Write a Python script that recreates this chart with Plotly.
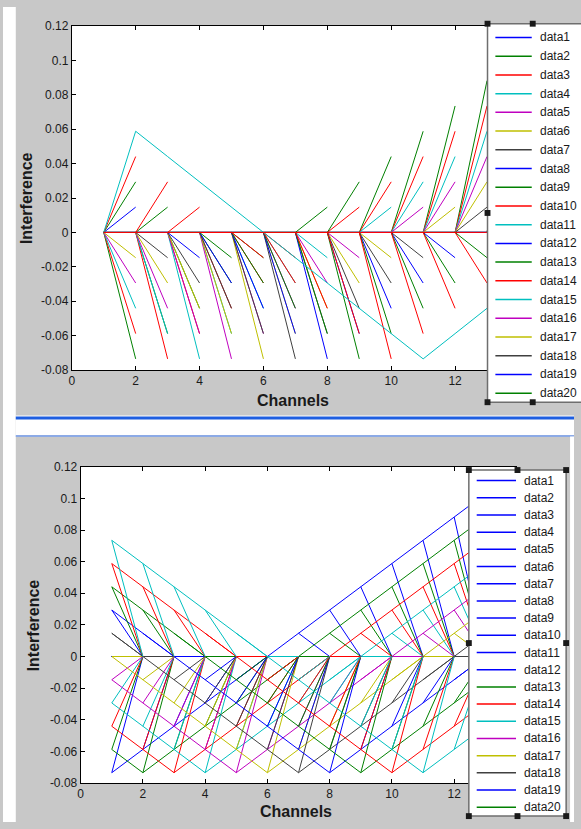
import plotly.graph_objects as go

# ---------------- data ----------------
CHANNELS = [1, 2, 3, 4, 5, 6, 7, 8, 9, 10, 11, 12, 13, 14]

# interference seen on each channel, one list per source channel
SRC1 = [-0.0735, -0.0588, -0.0441, -0.0294, -0.0147, 0, 0.0147, 0.0294, 0.0441, 0.0588, 0.0735, 0.0882, 0.1029, 0.1176]
SRC2 = [-0.0588, -0.0735, -0.0588, -0.0441, -0.0294, -0.0147, 0, 0.0147, 0.0294, 0.0441, 0.0588, 0.0735, 0.0882, 0.1029]
SRC3 = [-0.0441, -0.0588, -0.0735, -0.0588, -0.0441, -0.0294, -0.0147, 0, 0.0147, 0.0294, 0.0441, 0.0588, 0.0735, 0.0882]
SRC4 = [-0.0294, -0.0441, -0.0588, -0.0735, -0.0588, -0.0441, -0.0294, -0.0147, 0, 0.0147, 0.0294, 0.0441, 0.0588, 0.0735]
SRC5 = [-0.0147, -0.0294, -0.0441, -0.0588, -0.0735, -0.0588, -0.0441, -0.0294, -0.0147, 0, 0.0147, 0.0294, 0.0441, 0.0588]
SRC6 = [0, -0.0147, -0.0294, -0.0441, -0.0588, -0.0735, -0.0588, -0.0441, -0.0294, -0.0147, 0, 0.0147, 0.0294, 0.0441]
SRC7 = [0.0147, 0, -0.0147, -0.0294, -0.0441, -0.0588, -0.0735, -0.0588, -0.0441, -0.0294, -0.0147, 0, 0.0147, 0.0294]
SRC8 = [0.0294, 0.0147, 0, -0.0147, -0.0294, -0.0441, -0.0588, -0.0735, -0.0588, -0.0441, -0.0294, -0.0147, 0, 0.0147]
SRC9 = [0.0441, 0.0294, 0.0147, 0, -0.0147, -0.0294, -0.0441, -0.0588, -0.0735, -0.0588, -0.0441, -0.0294, -0.0147, 0]
SRC10 = [0.0588, 0.0441, 0.0294, 0.0147, 0, -0.0147, -0.0294, -0.0441, -0.0588, -0.0735, -0.0588, -0.0441, -0.0294, -0.0147]
SRC11 = [0.0735, 0.0588, 0.0441, 0.0294, 0.0147, 0, -0.0147, -0.0294, -0.0441, -0.0588, -0.0735, -0.0588, -0.0441, -0.0294]
# the long cyan line of the upper chart starts from zero on channel 1
TOP_SRC11 = [0, 0.0588, 0.0441, 0.0294, 0.0147, 0, -0.0147, -0.0294, -0.0441, -0.0588, -0.0735, -0.0588, -0.0441, -0.0294]
ZERO = [0, 0, 0, 0, 0, 0, 0, 0, 0, 0, 0, 0, 0, 0]

SERIES_NAMES = ["data1", "data2", "data3", "data4", "data5", "data6", "data7", "data8", "data9", "data10",
                "data11", "data12", "data13", "data14", "data15", "data16", "data17", "data18", "data19", "data20"]
EXTRA_NAMES = ["data21", "data22"]

X_TICKS = [0, 2, 4, 6, 8, 10, 12, 14]
X_TICK_TEXT = ["0", "2", "4", "6", "8", "10", "12", "14"]
Y_TICKS = [-0.08, -0.06, -0.04, -0.02, 0, 0.02, 0.04, 0.06, 0.08, 0.1, 0.12]
Y_TICK_TEXT = ["-0.08", "-0.06", "-0.04", "-0.02", "0", "0.02", "0.04", "0.06", "0.08", "0.1", "0.12"]
X_TITLE = "Channels"
Y_TITLE = "Interference"

SOURCES = [SRC1, SRC2, SRC3, SRC4, SRC5, SRC6, SRC7, SRC8, SRC9, SRC10, SRC11]

# ---------------- style ----------------
B, G, R, C, M, Y, K = "#0000FF", "#008000", "#FF0000", "#00BFBF", "#BF00BF", "#BFBF00", "#404040"
CYCLE = [B, G, R, C, M, Y, K]
TOP_COLORS = [B, G, R, C, M, Y, K, B, G, R, C, B, G, R, C, M, Y, K, B, G]
BOTTOM_COLORS = [B] * 12 + [G, R, C, M, Y, K, B, G]
FONT = "Liberation Sans, Arial, sans-serif"
W, H = 581, 829


def px(x):
    return x / W


def py(y):
    return 1 - y / H


def fan_up(vals):
    xs, ys = [], []
    for i in range(len(CHANNELS) - 1):
        xs += [CHANNELS[i], CHANNELS[i + 1], None]
        ys += [ZERO[i], vals[i + 1], None]
    return xs, ys


def fan_down(vals):
    xs, ys = [], []
    for i in range(len(CHANNELS) - 1):
        xs += [CHANNELS[i], CHANNELS[i + 1], None]
        ys += [vals[i], ZERO[i + 1], None]
    return xs, ys


fig = go.Figure()


def add_line(xs, ys, color, name, axes):
    fig.add_trace(go.Scatter(x=xs, y=ys, mode="lines", name=name, showlegend=False,
                             line=dict(color=color, width=1), hoverinfo="skip",
                             xaxis=axes[0], yaxis=axes[1]))


TOP = ("x", "y")
BOT = ("x2", "y2")

# ---- upper chart ----
for i in [0, 11, 12, 14, 15, 16, 17, 18, 19]:
    add_line(CHANNELS, ZERO, TOP_COLORS[i], SERIES_NAMES[i], TOP)
for i in range(1, 10):
    xs, ys = fan_up(SOURCES[i])
    add_line(xs, ys, TOP_COLORS[i], SERIES_NAMES[i], TOP)
add_line(CHANNELS, TOP_SRC11, TOP_COLORS[10], SERIES_NAMES[10], TOP)
add_line(CHANNELS, ZERO, TOP_COLORS[13], SERIES_NAMES[13], TOP)

# ---- lower chart ----
for i in range(11):
    add_line(CHANNELS, ZERO, BOTTOM_COLORS[i], SERIES_NAMES[i], BOT)
all_names = SERIES_NAMES + EXTRA_NAMES
for c, vals in enumerate(SOURCES):
    fx, fy = fan_down(vals)
    xs = CHANNELS + [None] + fx
    ys = vals + [None] + fy
    add_line(xs, ys, CYCLE[c % 7], all_names[11 + c], BOT)

axis_common = dict(showgrid=False, zeroline=False, showline=True, linecolor="black", linewidth=1,
                   mirror="ticks", ticks="inside", ticklen=4, tickcolor="black",
                   tickfont=dict(family=FONT, size=12, color="#1a1a1a"))

fig.update_layout(
    width=W, height=H, margin=dict(l=0, r=0, t=0, b=0),
    paper_bgcolor="#C8C8C8", plot_bgcolor="white", showlegend=False,
    font=dict(family=FONT, size=12, color="#1a1a1a"),
    xaxis=dict(domain=[px(70), px(525)], range=[0, 14], tickvals=X_TICKS, ticktext=X_TICK_TEXT,
               anchor="y", **axis_common),
    yaxis=dict(domain=[py(369.3), py(19.3)], range=[-0.08, 0.12], tickvals=Y_TICKS, ticktext=Y_TICK_TEXT,
               anchor="x", **axis_common),
    xaxis2=dict(domain=[px(79), px(522.4)], range=[0, 14], tickvals=X_TICKS, ticktext=X_TICK_TEXT,
                anchor="y2", **axis_common),
    yaxis2=dict(domain=[py(789.3), py(467.7)], range=[-0.08, 0.12], tickvals=Y_TICKS, ticktext=Y_TICK_TEXT,
                anchor="x2", **axis_common),
)


def rect(x0, y0, x1, y1, fill, line=None, layer="below"):
    fig.add_shape(type="rect", xref="paper", yref="paper", x0=px(x0), x1=px(x1), y0=py(y1), y1=py(y0),
                  fillcolor=fill, line=line or dict(width=0), layer=layer)


# window frame pieces (screenshot of two figure windows)
rect(0, 0, 13, 829, "white")
rect(13, 415.5, 581, 436, "white")
rect(13, 416.5, 581, 419.5, "#1E5EE0")
rect(13, 435.3, 581, 437.3, "#8CAAE6")
rect(577, 437, 581, 829, "white")

# axis titles
for cx, cy in [(295.5, 400.5), (298, 818)]:
    fig.add_annotation(x=px(cx), y=py(cy), xref="paper", yref="paper", text="<b>%s</b>" % X_TITLE,
                       showarrow=False, font=dict(family=FONT, size=16, color="#1a1a1a"),
                       xanchor="center", yanchor="middle")
for cx, cy in [(23.5, 194.3), (31, 628.5)]:
    fig.add_annotation(x=px(cx), y=py(cy), xref="paper", yref="paper", text="<b>%s</b>" % Y_TITLE,
                       showarrow=False, textangle=-90, font=dict(family=FONT, size=16, color="#1a1a1a"),
                       xanchor="center", yanchor="middle")


def legend_box(names, colors, box, row0, dy, line_x, text_x, handle_x, side_handles):
    x0, y0, x1, y1 = box
    rect(x0, y0, x1, y1, "white", line=dict(color="#6e6e6e", width=1.5), layer="above")
    for i, (n, col) in enumerate(zip(names, colors)):
        yy = row0 + i * dy
        fig.add_shape(type="line", xref="paper", yref="paper", x0=px(line_x[0]), x1=px(line_x[1]),
                      y0=py(yy), y1=py(yy), line=dict(color=col, width=1.5), layer="above")
        fig.add_annotation(x=px(text_x), y=py(yy), xref="paper", yref="paper", text=n, showarrow=False,
                           xanchor="left", yanchor="middle", font=dict(family=FONT, size=12, color="#1a1a1a"))
    ym = (y0 + y1) / 2
    for hx in handle_x:
        for hy in [y0, y1]:
            rect(hx - 3, hy - 3, hx + 3, hy + 3, "#1a1a1a", layer="above")
    for hx in side_handles:
        rect(hx - 3, ym - 3, hx + 3, ym + 3, "#1a1a1a", layer="above")


legend_box(SERIES_NAMES, TOP_COLORS, (493, 17, 600, 402), 31, 19.04, (501, 538), 544, [493, 539], [493])
legend_box(SERIES_NAMES, BOTTOM_COLORS, (474, 471, 573, 823), 481.7, 17.49, (482, 522), 528,
           [474, 523.5, 573], [474, 573])

fig.write_html("out.html", config={"displayModeBar": False, "staticPlot": True},
               post_script="document.body.style.margin='0px';document.body.style.overflow='hidden';")
